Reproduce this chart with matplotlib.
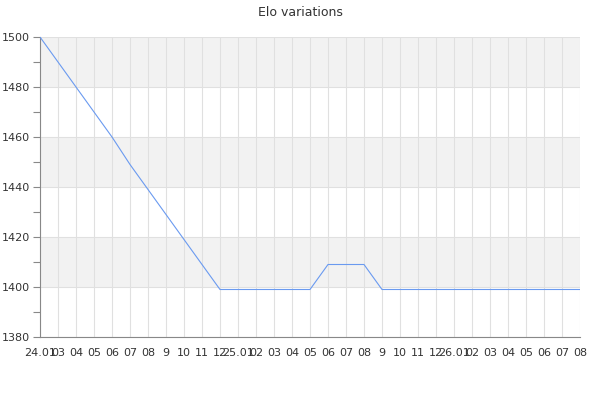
import numpy as np
import matplotlib
matplotlib.use('Agg')
import matplotlib.pyplot as plt
from matplotlib.ticker import MultipleLocator

# -- data
labels = ['24.01', '03', '04', '05', '06', '07', '08', '9', '10', '11', '12',
          '25.01', '02', '03', '04', '05', '06', '07', '08', '9', '10', '11', '12',
          '26.01', '02', '03', '04', '05', '06', '07', '08']
elo = [1500, 1490, 1480, 1470, 1460, 1449, 1439, 1429, 1419, 1409, 1399,
       1399, 1399, 1399, 1399, 1399, 1409, 1409, 1409, 1399, 1399, 1399, 1399,
       1399, 1399, 1399, 1399, 1399, 1399, 1399, 1399]
bands = [(1400, 1420), (1440, 1460), (1480, 1500)]

x = np.arange(len(labels))

fig = plt.figure(figsize=(6, 4), dpi=100)
ax = fig.add_axes([40/600, 63/400, 540/600, 300/400])

for lo, hi in bands:
    ax.axhspan(lo, hi, color='#f2f2f2', zorder=0, lw=0)

ax.plot(x, elo, color='#6a9af0', lw=0.8, zorder=3)

ax.set(xlim=(0, len(labels) - 1), ylim=(1380, 1500))
ax.set_xticks(x)
ax.set_xticklabels(labels, fontsize=8, color='#333333')
ax.yaxis.set_major_locator(MultipleLocator(20))
ax.yaxis.set_minor_locator(MultipleLocator(10))
ax.tick_params(axis='y', which='both', length=5, width=0.8, color='#888888',
               labelsize=8, labelcolor='#333333', pad=2)
ax.tick_params(axis='x', length=0, pad=8)
ax.grid(True, which='major', color='#e0e0e0', lw=0.8, zorder=1)
ax.set_axisbelow(True)

for s in ['top', 'right']:
    ax.spines[s].set_visible(False)
for s in ['left', 'bottom']:
    ax.spines[s].set_color('#888888')
    ax.spines[s].set_linewidth(0.8)

fig.suptitle('Elo variations', fontsize=9, color='#333333', y=0.985)

fig.savefig('out.png', dpi=100)
